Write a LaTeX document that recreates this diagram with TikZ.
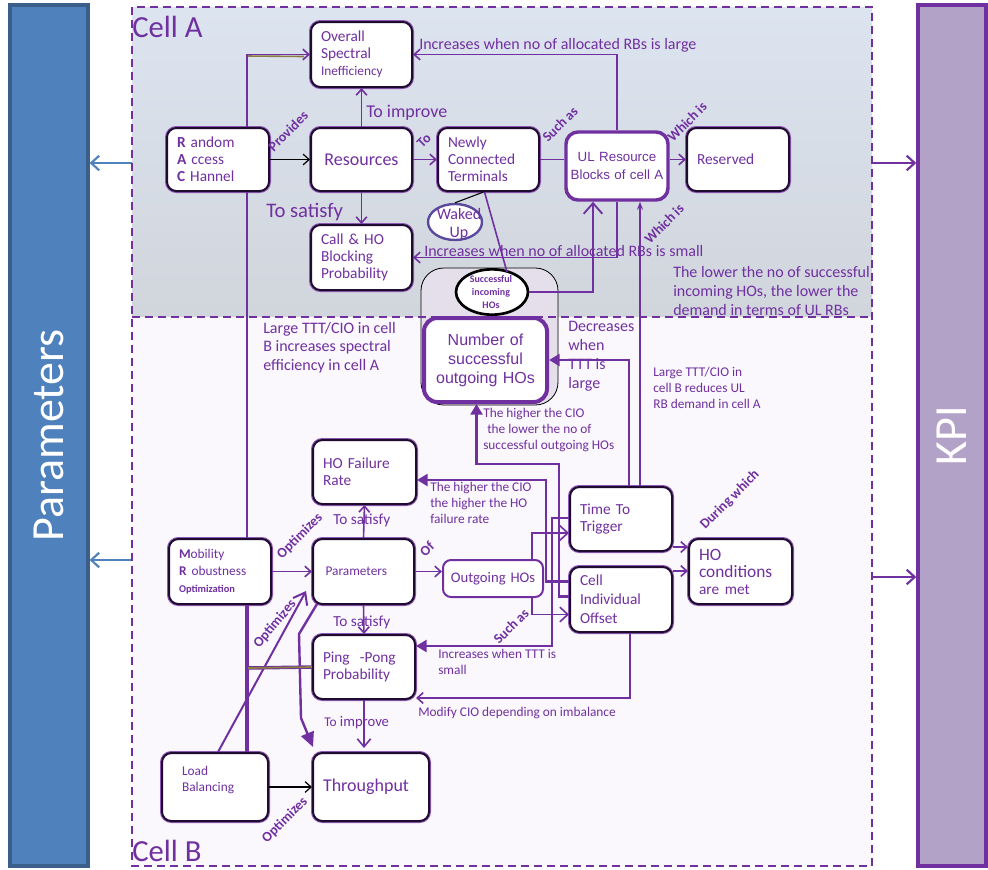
\documentclass[tikz,border=0pt]{standalone}
\usepackage{fontspec}
\setmainfont{Carlito}
\newfontfamily\arialf{Liberation Sans}
\usetikzlibrary{arrows.meta,calc,shapes.geometric}
\definecolor{ptxt}{HTML}{7030A0}
\definecolor{pline}{HTML}{7030A0}
\definecolor{boxline}{HTML}{1F0A30}
\definecolor{barblue}{HTML}{4F81BD}
\definecolor{barblueedge}{HTML}{3A5F8B}
\definecolor{kpifill}{HTML}{B3A2C7}
\definecolor{cellAtop}{HTML}{DCE4F0}
\definecolor{cellAbot}{HTML}{D1D5DC}
\definecolor{cellBfill}{HTML}{FAF8FC}
\definecolor{contfill}{HTML}{E5DFEC}
\definecolor{olivel}{HTML}{8B7B45}
\definecolor{wakedc}{HTML}{5A4A9E}
\newcommand\myfs[2]{\fontsize{#1pt}{#2pt}\selectfont}
\newcommand\mkbox[7][box]{%
 \pgfmathsetmacro\mkbw{(#5-#3)*0.75}%
 \pgfmathsetmacro\mkbh{(#6-#4)*0.75}%
 \pgfmathsetmacro\mktw{(#5-#3-20)*0.75}%
 \node[minimum width=\mkbw pt,minimum height=\mkbh pt,text width=\mktw pt,#1] (#2) at ({(#3+#5)/2},{(#4+#6)/2}) {#7};}
\tikzset{
 basebox/.style={rounded corners=7pt, fill=white, inner sep=0pt, text=ptxt, align=left, font=\myfs{11.5}{12.75}},
 box/.style={basebox, draw=boxline, line width=1.5pt, preaction={draw=pline!80, line width=3pt}},
 ulbox/.style={basebox, draw=pline, line width=2.6pt, rounded corners=9pt, align=center, font={\arialf\myfs{10}{13.5}}},
 outbox/.style={basebox, draw=pline, line width=3pt, rounded corners=10pt, align=center, font={\arialf\myfs{12}{14.25}}},
 obox/.style={basebox, draw=pline, line width=1.5pt, rounded corners=6pt, align=center, font=\myfs{11}{12}},
 contbox/.style={basebox, draw=black, line width=0.6pt, fill=contfill, rounded corners=17pt},
 conn/.style={draw=pline, line width=1.2pt, -{Straight Barb[length=4.5pt,width=8pt]}},
 plainln/.style={draw=pline, line width=1.2pt},
 blackarr/.style={draw=black, line width=0.9pt, -{Straight Barb[length=4.5pt,width=8pt]}},
 fatarr/.style={draw=pline, line width=1.8pt, -{Triangle[length=8pt,width=9pt]}},
 bigbarb/.style={draw=pline, line width=1.4pt, -{Straight Barb[length=8pt,width=14pt]}},
 lbl/.style={text=ptxt, inner sep=0pt, align=left},
 rlbl/.style={text=ptxt, inner sep=0pt, rotate=45, font={\bfseries\myfs{10.5}{12}}},
 dashln/.style={draw=pline, line width=1.1pt, dash pattern=on 6pt off 3.75pt},
 sidearr/.style={line width=1.6pt, -{Straight Barb[length=6pt,width=11pt]}},
}
\begin{document}
\begin{tikzpicture}[x=0.75pt,y=-0.75pt]
\useasboundingbox (0,0) rectangle (988,869);
\fill[white] (0,0) rectangle (988,869);
% cells
\fill[top color=cellAtop, bottom color=cellAbot] (132,7) rectangle (872,317);
\fill[cellBfill] (132,317) rectangle (872,866);
% side bars
\node[draw=barblueedge, line width=2.4pt, fill=barblue, minimum width=58.5pt, minimum height=645.75pt, inner sep=0pt, text=white, font=\myfs{34.5}{40}] (pbar) at (49,435.5) {\rotatebox{90}{Parameters}};
\node[draw=pline, line width=2.6pt, fill=kpifill, minimum width=51pt, minimum height=645.75pt, inner sep=0pt, text=white, font=\myfs{34.5}{40}] (kbar) at (952,435.5) {\rotatebox{90}{KPI}};
\coordinate (pa1) at (132,163);
\coordinate (pa2) at (132,560);
\coordinate (ka1) at (872,163);
\coordinate (ka2) at (872,577);
\draw[sidearr, draw=barblue] (pa1) -- (pa1 -| pbar.east);
\draw[sidearr, draw=barblue] (pa2) -- (pa2 -| pbar.east);
\draw[sidearr, draw=pline] (ka1) -- (ka1 -| kbar.west);
\draw[sidearr, draw=pline] (ka2) -- (ka2 -| kbar.west);
% container
\mkbox[contbox]{cont}{421}{268}{558}{405}{}
% boxes
\mkbox{ospec}{311}{22}{412}{87}{Overall\\Spectral\\{\myfs{10}{12.75}Inefficiency}}
\mkbox{rach}{167}{128}{269}{191}{\textbf{R} andom\\\textbf{A} ccess\\\textbf{C} Hannel}
\mkbox[box,align=center,font=\myfs{13.5}{15}]{res}{311}{128}{412}{191}{Resources}
\mkbox{newly}{438}{128}{539}{191}{Newly\\Connected\\Terminals}
\mkbox[ulbox,text width=74pt]{ul}{566}{132}{668}{200}{UL Resource\\Blocks of cell A}
\mkbox{resv}{687}{128}{789}{191}{Reserved}
\mkbox{block}{311}{225}{412}{290}{Call \& HO\\Blocking\\Probability}
\mkbox[outbox,text width=86pt]{nout}{424}{318}{547}{402}{Number of\\successful\\outgoing HOs}
\mkbox{hofail}{313}{440}{416}{504}{HO Failure\\Rate}
\mkbox{mro}{169}{539}{271}{604}{{\myfs{10}{12.75}\textbf{M}obility}\\{\myfs{10}{13}\textbf{R} obustness}\\{\myfs{7.8}{11}\bfseries Optimization}}
\mkbox[box,font=\myfs{10}{12},text width=57pt]{par}{313}{539}{414}{604}{Parameters}
\mkbox[obox,text width=72pt]{outho}{443}{560}{543}{597}{Outgoing HOs}
\mkbox{ttt}{570}{487}{672}{551}{Time To\\Trigger}
\mkbox[box,font=\myfs{11.5}{14.25}]{cio}{570}{567}{672}{632}{Cell\\Individual\\Offset}
\mkbox[box,font=\myfs{13}{12.75}]{hocond}{689}{539}{792}{604}{HO\\conditions\\{\myfs{11.5}{12.75}are met}}
\mkbox{ping}{313}{635}{415}{699}{Ping~ -Pong\\Probability}
\mkbox[box,font=\myfs{10}{12},text width=49.5pt]{lb}{162}{753}{268}{821}{Load\\Balancing\\\mbox{}}
\mkbox[box,font=\myfs{13.5}{15}]{thr}{313}{753}{429}{821}{Throughput}
% ellipses
\node[ellipse, draw=wakedc, line width=1.8pt, fill=white, minimum width=40.5pt, minimum height=27pt, inner sep=0pt] (waked) at (455,222) {};
\node[lbl, align=center, font=\myfs{12}{13.5}] (wakedt) at (459,224) {Waked\\Up};
\node[ellipse, draw=black, line width=2pt, fill=white, minimum width=54pt, minimum height=34pt, inner sep=0pt] (sinc) at (492,292) {};
\node[lbl, align=center, font={\bfseries\myfs{7.5}{9.75}}] (sinct) at (491,292) {Successful\\incoming\\HOs};
% connectors cell A
\draw[blackarr] (rach.east) -- (res.west);
\draw[olivel, line width=1.2pt] ($(rach.north)+(29,-71)$) -- ($(ospec.west)+(-6,2)$);
\draw[conn] ($(rach.north)+(29,0)$) |- (ospec.west);
\draw[conn] (res.north) -- (ospec.south);
\draw[conn] (res.east) -- (newly.west);
\draw[plainln] (newly.east) -- (newly.east -| ul.west);
\draw[conn] (resv.west -| ul.east) -- (resv.west);
\draw[conn] (ul.north) |- (ospec.east);
\draw[conn] (res.south) -- (block.north);
\draw[conn] (ul.south) |- (block.east);
\draw[black, line width=0.8pt] (waked.north) -- ($(newly.south)+(-5,0)$);
\draw[plainln] ($(newly.south)+(-4,0)$) -- ($(sinc.center)+(15,-20)$);
\draw[bigbarb] (sinc.east) -| ($(ul.south)+(-24,0)$);
\draw[draw=pline, line width=0.9pt, -{Stealth[length=6pt,width=4.5pt]}] ($(ttt.north)+(19,0)$) -- ($(ul.south)+(23,0)$);
% connectors cell B
\draw[fatarr] ($(ttt.north)+(8,0)$) |- (nout.east);
\draw[fatarr] ($(cio.west)+(0,-3)$) -- ++(-10,0) |- ($(nout.south)+(-9,60)$) -- ($(nout.south)+(-9,0)$);
\draw[fatarr] ($(cio.west)+(0,-18)$) -- ++(-23,0) |- ($(hofail.east)+(0,8)$);
\draw[fatarr] ($(ttt.west)+(0,-1)$) -- ++(-17,0) |- ($(ping.east)+(0,-21)$);
\draw[conn, -{Straight Barb[length=6pt,width=11pt]}] ($(outho.north)+(39,0)$) |- ($(ttt.west)+(0,14)$);
\draw[conn, -{Straight Barb[length=6pt,width=11pt]}] ($(outho.south)+(39,0)$) |- ($(cio.west)+(0,15)$);
\draw[conn] (par.east) -- (par.east -| outho.west);
\draw[conn] (mro.east) -- (par.west);
\draw[conn] (par.north) -- (hofail.south);
\draw[conn] (par.south) -- (ping.north);
\draw[conn, -{Straight Barb[length=6pt,width=10pt]}] (ping.south) -- ($(ping.south |- thr.north)+(0,-4)$);
\coordinate (t1) at ($(ttt.south east)+(0,-5)$);
\coordinate (c1) at ($(cio.north east)+(0,5)$);
\draw[conn] (t1) -- (t1 -| hocond.west);
\draw[conn] (c1) -- (c1 -| hocond.west);
\draw[conn] ($(cio.south)+(9,0)$) |- ($(ping.south east)+(0,-2)$);
\draw[blackarr] (lb.east) -- (lb.east -| thr.west);
\draw[draw=pline, line width=1.5pt, -{Straight Barb[length=8pt,width=12pt]}] ($(lb.north)+(3,0)$) -- ($(par.south west)+(-6,-14)$);
\draw[draw=pline, line width=1.8pt, -{Triangle[length=11pt,width=10pt]}] ($(par.south west)+(5,-1)$) -- ++(-18,30) -- ++(2,84) -- ($(thr.north west)+(1,-5)$);
\draw[plainln, line width=1.5pt] ($(rach.south)+(29,0)$) -- ($(mro.north)+(27,0)$);
\draw[plainln, line width=2.4pt] ($(mro.south)+(27,0)$) -- ($(lb.north)+(32,0)$);
\draw[pline, line width=2.6pt] ($(mro.south)+(27,63)$) -- (ping.west);
\draw[olivel, line width=1.3pt] ($(mro.south)+(28,63)$) -- (ping.west);
% dashed borders
\draw[dashln] (132,7) rectangle (872,866);
\draw[dashln] (132,317) -- (872,317);
% labels
\node[lbl, anchor=west, font=\myfs{23}{27}] (cellA) at (132,27) {Cell A};
\node[lbl, anchor=west, font=\myfs{23}{27}] (cellB) at (132,851) {Cell B};
\node[rlbl] (lprov) at (288,131) {Provides};
\node[lbl, anchor=west, font=\myfs{13.5}{15}] (limp) at (366,113) {To improve};
\node[rlbl] (lto) at (424,141) {To};
\node[rlbl] (lsuch1) at (560,124) {Such as};
\node[rlbl] (lwhich1) at (687,122) {Which is};
\node[lbl, anchor=west, font=\myfs{12}{14}] (llarge) at (419,45) {Increases when no of allocated RBs is large};
\node[lbl, anchor=west, font=\myfs{15.5}{17}] (lsat1) at (266,212) {To satisfy};
\node[lbl, anchor=west, font=\myfs{12}{14}] (lsmall) at (424,251) {Increases when no of allocated RBs is small};
\node[rlbl] (lwhich2) at (664,224) {Which is};
\node[lbl, anchor=north west, font=\myfs{12}{14.25}] (llower) at (673,266) {The lower the no of successful\\incoming HOs, the lower the\\demand in terms of UL RBs};
\node[lbl, anchor=north west, font=\myfs{12}{13.9}] (lspec) at (263,322) {Large TTT/CIO in cell\\B increases spectral\\efficiency in cell A};
\node[lbl, anchor=north west, font=\myfs{12}{14.25}] (ldec) at (568,321) {Decreases\\when\\TTT is\\large};
\node[lbl, anchor=north west, font=\myfs{10}{12}] (lred) at (653,367) {Large TTT/CIO in\\cell B reduces UL\\RB demand in cell A};
\node[lbl, anchor=north west, font=\myfs{10}{12}] (lcio1) at (483,408) {The higher the CIO\\\hspace{3pt}the lower the no of\\successful outgoing HOs};
\node[lbl, anchor=north west, font=\myfs{10}{12}] (lcio2) at (430,482) {The higher the CIO\\the higher the HO\\failure rate};
\node[lbl, anchor=west, font=\myfs{11.5}{13}] (lsat2) at (333,520) {To satisfy};
\node[rlbl] (lopt1) at (300,536) {Optimizes};
\node[rlbl] (lof) at (427,549) {Of};
\node[rlbl] (lsuch2) at (511,626) {Such as};
\node[rlbl] (ldur) at (730,500) {During which};
\node[lbl, anchor=west, font=\myfs{11.5}{13}] (lsat3) at (333,622) {To satisfy};
\node[rlbl, rotate=5] (lopt2) at (275,624) {Optimizes};
\node[lbl, anchor=north west, font=\myfs{10}{12}] (lttt) at (438,649) {Increases when TTT is\\small};
\node[lbl, anchor=west, font=\myfs{10}{12}] (lmod) at (418,713) {Modify CIO depending on imbalance};
\node[lbl, anchor=west, font=\myfs{11}{13}] (limp2) at (324,723) {{\myfs{10}{12}To} improve};
\node[rlbl] (lopt3) at (285,820) {Optimizes};
\end{tikzpicture}
\end{document}
